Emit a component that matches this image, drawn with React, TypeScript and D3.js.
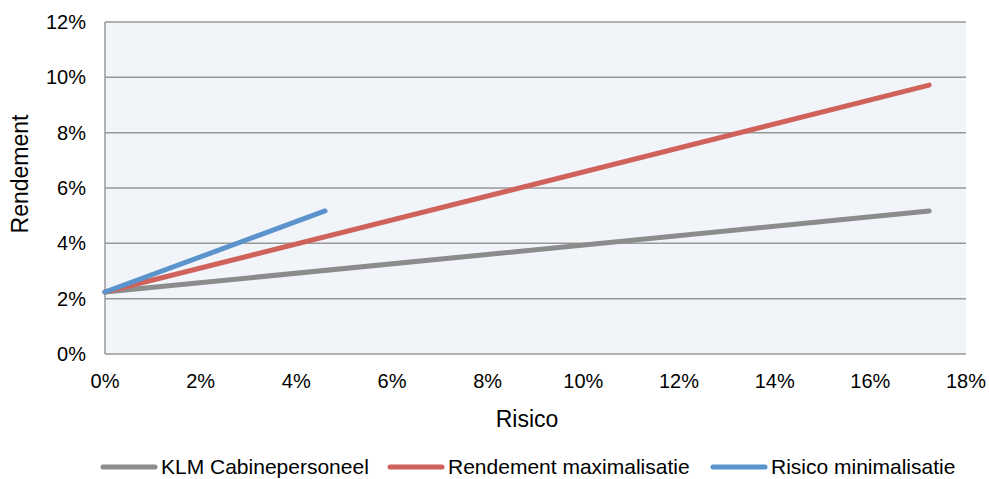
import React from "react";
import * as d3 from "d3";

const seriesNames = ["KLM Cabinepersoneel", "Rendement maximalisatie", "Risico minimalisatie"];
const seriesColors = ["#8c8c8c", "#d0625c", "#5b93cc"];
const klmRisk = [0, 17.23];
const klmReturn = [2.24, 5.17];
const maxRisk = [0, 17.23];
const maxReturn = [2.24, 9.72];
const minRisk = [0, 4.6];
const minReturn = [2.24, 5.17];
const xTicks = [0, 2, 4, 6, 8, 10, 12, 14, 16, 18];
const yTicks = [0, 2, 4, 6, 8, 10, 12];

const W = 989;
const H = 479;
const M = { left: 105, right: 966, top: 22, bottom: 354 };
const FONT = "'Liberation Sans', Arial, sans-serif";

export default function App() {
  const x = d3.scaleLinear().domain([0, 18]).range([M.left, M.right]);
  const y = d3.scaleLinear().domain([0, 12]).range([M.bottom, M.top]);
  const line = d3
    .line<[number, number]>()
    .x((d) => x(d[0]))
    .y((d) => y(d[1]));
  const series = [
    d3.zip(klmRisk, klmReturn) as [number, number][],
    d3.zip(maxRisk, maxReturn) as [number, number][],
    d3.zip(minRisk, minReturn) as [number, number][],
  ];
  const legendX = [103, 390, 713];

  return (
    <svg
      width={W}
      height={H}
      style={{ position: "absolute", left: 0, top: 0 }}
      fontFamily={FONT}
    >
      <rect width={W} height={H} fill="#ffffff" />
      <rect
        x={M.left}
        y={M.top}
        width={M.right - M.left}
        height={M.bottom - M.top}
        fill="#f1f4f9"
      />
      {yTicks.map((t) => (
        <g key={t}>
          <line x1={M.left} x2={M.right} y1={y(t)} y2={y(t)} stroke="#989898" strokeWidth={1.5} />
          <text x={86} y={y(t)} dy="0.35em" textAnchor="end" fontSize={20} fill="#000">
            {t}%
          </text>
        </g>
      ))}
      <line x1={M.left} x2={M.left} y1={M.top} y2={M.bottom} stroke="#989898" strokeWidth={1.5} />
      {xTicks.map((t) => (
        <text key={t} x={x(t)} y={388} textAnchor="middle" fontSize={20} fill="#000">
          {t}%
        </text>
      ))}
      <text x={527} y={427} textAnchor="middle" fontSize={23} fill="#000">
        Risico
      </text>
      <text
        transform="translate(28,174) rotate(-90)"
        textAnchor="middle"
        fontSize={23}
        fill="#000"
      >
        Rendement
      </text>
      {series.map((s, i) => (
        <path
          key={i}
          d={line(s) || ""}
          fill="none"
          stroke={seriesColors[i]}
          strokeWidth={5}
          strokeLinecap="round"
        />
      ))}
      {seriesNames.map((n, i) => (
        <g key={n}>
          <line
            x1={legendX[i]}
            x2={legendX[i] + 52}
            y1={467}
            y2={467}
            stroke={seriesColors[i]}
            strokeWidth={5}
            strokeLinecap="round"
          />
          <text x={legendX[i] + 58} y={467} dy="0.35em" fontSize={21} fill="#000">
            {n}
          </text>
        </g>
      ))}
    </svg>
  );
}
